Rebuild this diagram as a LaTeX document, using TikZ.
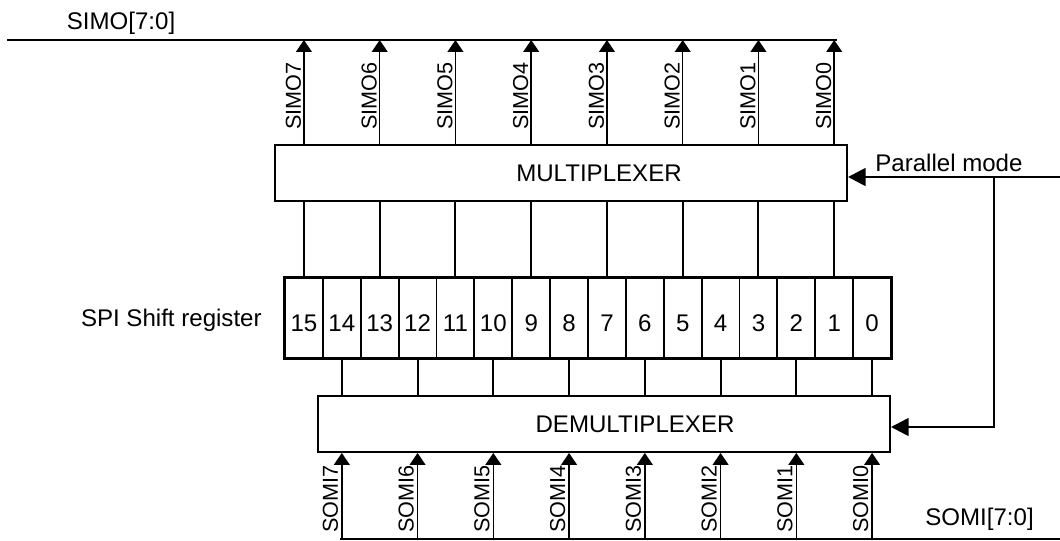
\documentclass[tikz,border=0pt]{standalone}
\usepackage{fontspec}
\setmainfont{Liberation Sans}
\usetikzlibrary{arrows.meta,positioning,calc}
\tikzset{
  blockbox/.style={draw=black, line width=1.1pt, inner sep=0pt, minimum width=11.44cm, minimum height=1.12cm},
  cell/.style={draw=black, line width=1.1pt, inner sep=0pt, minimum width=7.575mm, minimum height=16mm, text height=0.54cm, font=\fontsize{13.7}{16}\selectfont},
  bus/.style={line width=1.5pt},
  wire/.style={line width=1.1pt},
  sigarrow/.style={-{Triangle[length=6.8pt,width=9pt]}, line width=0.85pt},
  modearrow/.style={-{Triangle[length=10pt,width=10pt]}, line width=1.5pt},
  sig/.style={font=\fontsize{12.3}{14}\selectfont, rotate=90, anchor=base west, inner sep=0pt}
}
\begin{document}
\begin{tikzpicture}[
  lbl/.style={font=\fontsize{13.7}{16}\selectfont, inner sep=0pt}
]
\useasboundingbox (0,0) rectangle (21.2,-10.8);
% shift register, bit 15 on the left
\foreach \k in {0,...,15}
  \node[cell] (r\k) at ({5.7+(15.5-\k)*0.7575},-6.36) {\k};
\draw[line width=1.7pt] (r15.north west) rectangle (r0.south east);
\node[lbl, anchor=base east] (reglbl) at (5.24,-6.52) {SPI Shift register};
% mux and demux
\node[blockbox, label={[lbl, xshift=0.76cm]center:MULTIPLEXER}] (mux) at (11.22,-3.46) {};
\node[blockbox, label={[lbl, xshift=0.62cm]center:DEMULTIPLEXER}] (demux) at (12.08,-8.48) {};
% buses
\coordinate (simoL) at (0.14,-0.8);
\coordinate (simoR) at (16.74,-0.8);
\draw[bus] (simoL) -- (simoR);
\node[lbl, anchor=base] (simolbl) at (2.42,-0.6) {SIMO[7:0]};
\coordinate (somiL) at (6.8,-10.78);
\coordinate (somiR) at (21.2,-10.78);
\draw[wire] (somiL) -- (somiR);
\node[lbl, anchor=base west] (somilbl) at (18.5,-10.5) {SOMI[7:0]};
% odd bits go out through the mux
\foreach \i in {0,...,7} {
  \pgfmathtruncatemacro\c{2*\i+1}
  \draw[wire] (mux.south -| r\c) -- (r\c.north);
  \draw[sigarrow] (mux.north -| r\c) -- (simoL -| r\c);
  \node[sig] at ($(mux.north -| r\c)+(-0.06,0.28)$) {SIMO\i};
}
% even bits come in through the demux
\foreach \i in {0,...,7} {
  \pgfmathtruncatemacro\c{2*\i}
  \draw[wire] (r\c.south) -- (demux.north -| r\c);
  \draw[sigarrow] (somiL -| r\c) -- (demux.south -| r\c);
  \node[sig] at ($(somiL -| r\c)+(-0.08,0.12)$) {SOMI\i};
}
% parallel mode control
\coordinate (pmode) at (21.2,-3.54);
\coordinate (pturn) at (19.88,-3.54);
\coordinate (pdown) at (19.88,-8.54);
\draw[modearrow] (pmode) -- (mux.east |- pmode);
\draw[modearrow] (pturn) -- (pdown) -- (demux.east |- pdown);
\node[lbl, anchor=base west] (pmodelbl) at (17.5,-3.43) {Parallel mode};
\end{tikzpicture}
\end{document}
